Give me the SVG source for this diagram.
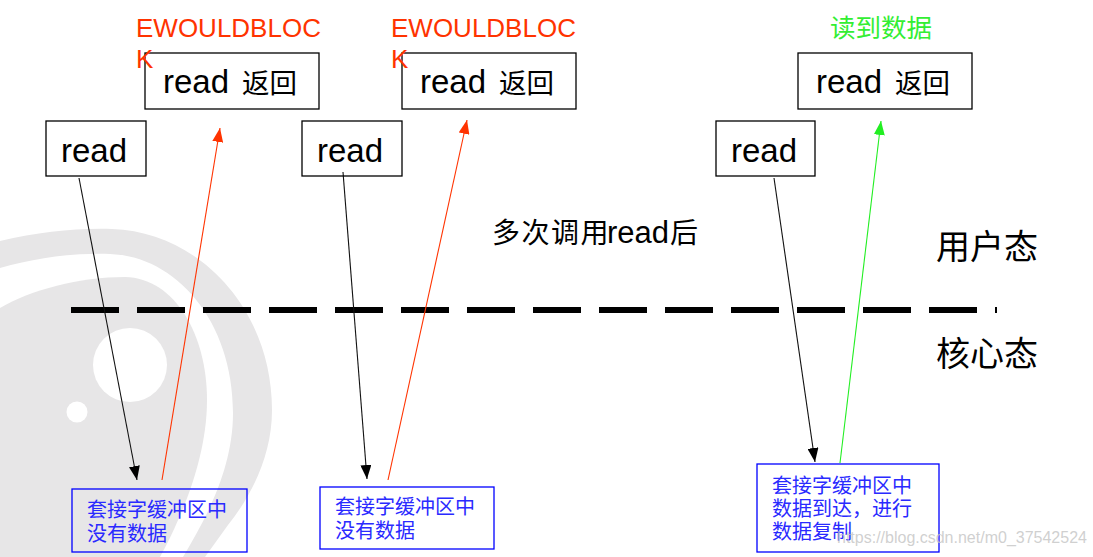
<svg xmlns="http://www.w3.org/2000/svg" width="1093" height="557" viewBox="0 0 1093 557">
<style>
.wm{fill:#e7e6e7}
.box{fill:none;stroke:#000;stroke-width:1.3}
.bbox{fill:none;stroke:#0000ff;stroke-width:1.3}
.lat{font-family:"Liberation Sans",Arial,sans-serif}
.cjk{font-family:"Noto Sans CJK SC","Liberation Sans",sans-serif}
.rd{font-size:33px;fill:#000}
.ret{font-size:27.5px;fill:#000}
.ew{font-size:26px;fill:#ff3300}
.ok{font-size:25.5px;fill:#33ee33}
.note{font-size:20px;fill:#2a2aff}
.state{font-size:34px;fill:#000}
.blk{stroke:#111;stroke-width:1.1;fill:none}
.red{stroke:#ff3300;stroke-width:1.1;fill:none}
.grn{stroke:#22ee22;stroke-width:1.1;fill:none}
</style>
<defs>
<marker id="ahB" markerUnits="userSpaceOnUse" markerWidth="14" markerHeight="11" refX="14" refY="5.5" orient="auto"><path d="M0,0 L14,5.5 L0,11 z" fill="#000"/></marker>
<marker id="ahR" markerUnits="userSpaceOnUse" markerWidth="14" markerHeight="11" refX="14" refY="5.5" orient="auto"><path d="M0,0 L14,5.5 L0,11 z" fill="#ff3300"/></marker>
<marker id="ahG" markerUnits="userSpaceOnUse" markerWidth="14" markerHeight="11" refX="14" refY="5.5" orient="auto"><path d="M0,0 L14,5.5 L0,11 z" fill="#22ee22"/></marker>
</defs>
<rect width="1093" height="557" fill="#fff"/>
<g id="watermark-logo">
<path class="wm" d="M0,241 C40,232 75,228 112,229 C200,232 272,310 272,410 C272,455 252,495 228,525 L205,557 L183,557 C205,520 233,470 233,413 C233,320 175,256 110,254 C70,253 35,258 0,268 Z"/>
<path class="wm" d="M0,308 C30,290 80,277 125,277 C175,278 207,335 207,400 C207,460 180,520 160,557 L0,557 Z"/>
<circle cx="130" cy="365" r="37" fill="#fff"/>
<circle cx="77" cy="412" r="10.5" fill="#fff"/>
</g>
<g id="divider">
<line x1="71" y1="310" x2="997" y2="310" stroke="#000" stroke-width="6" stroke-dasharray="48 18"/>
</g>
<g id="connectors">
<line class="blk" x1="79" y1="178" x2="137" y2="480" marker-end="url(#ahB)"/>
<line class="red" x1="162" y1="480" x2="220" y2="128" marker-end="url(#ahR)"/>
<line class="blk" x1="343" y1="172" x2="367" y2="479" marker-end="url(#ahB)"/>
<line class="red" x1="388" y1="480" x2="467" y2="120" marker-end="url(#ahR)"/>
<line class="blk" x1="774" y1="178" x2="815" y2="462" marker-end="url(#ahB)"/>
<line class="grn" x1="840" y1="463" x2="881" y2="121" marker-end="url(#ahG)"/>
</g>
<g id="read1">
<rect class="box" x="46" y="121" width="100" height="55"/>
<text class="lat rd" x="94" y="162" text-anchor="middle">read</text>
</g>
<g id="read2">
<rect class="box" x="302" y="121" width="100" height="55"/>
<text class="lat rd" x="350" y="162" text-anchor="middle">read</text>
</g>
<g id="read3">
<rect class="box" x="716" y="121" width="99" height="55"/>
<text class="lat rd" x="764" y="162" text-anchor="middle">read</text>
</g>
<g id="ret1">
<rect class="box" x="145" y="53" width="174" height="56"/>
<text x="163" y="93"><tspan class="lat rd">read</tspan><tspan class="cjk ret" x="242">返回</tspan></text>
<text class="lat ew" x="136" y="37">EWOULDBLOC</text>
<text class="lat ew" x="136" y="68">K</text>
</g>
<g id="ret2">
<rect class="box" x="402" y="53" width="174" height="56"/>
<text x="420" y="93"><tspan class="lat rd">read</tspan><tspan class="cjk ret" x="499">返回</tspan></text>
<text class="lat ew" x="391" y="37">EWOULDBLOC</text>
<text class="lat ew" x="391" y="68">K</text>
</g>
<g id="ret3">
<rect class="box" x="798" y="53" width="174" height="56"/>
<text x="816" y="93"><tspan class="lat rd">read</tspan><tspan class="cjk ret" x="895">返回</tspan></text>
<text class="cjk ok" x="830" y="37">读到数据</text>
</g>
<g id="multi">
<text x="492" y="243"><tspan class="cjk" font-size="28" letter-spacing="1.5">多次调用</tspan><tspan class="lat" font-size="31" x="607">read</tspan><tspan class="cjk" font-size="28" x="670">后</tspan></text>
</g>
<g id="user-state"><text class="cjk state" x="936" y="259">用户态</text></g>
<g id="kernel-state"><text class="cjk state" x="936" y="366">核心态</text></g>
<g id="buf1">
<rect class="bbox" x="72" y="489" width="175" height="63"/>
<text class="cjk note" x="87" y="517">套接字缓冲区中</text>
<text class="cjk note" x="87" y="541">没有数据</text>
</g>
<g id="buf2">
<rect class="bbox" x="320" y="487" width="174" height="62"/>
<text class="cjk note" x="335" y="514">套接字缓冲区中</text>
<text class="cjk note" x="335" y="538">没有数据</text>
</g>
<g id="buf3">
<rect class="bbox" x="757" y="464" width="182" height="88"/>
<text class="cjk note" x="772" y="493">套接字缓冲区中</text>
<text class="cjk note" x="772" y="516">数据到达，进行</text>
<text class="cjk note" x="772" y="539">数据复制</text>
</g>
<g id="watermark-text">
<text class="lat" x="837" y="543" font-size="16" fill="#c4c4c4" fill-opacity="0.8">https://blog.csdn.net/m0_37542524</text>
</g>
</svg>
